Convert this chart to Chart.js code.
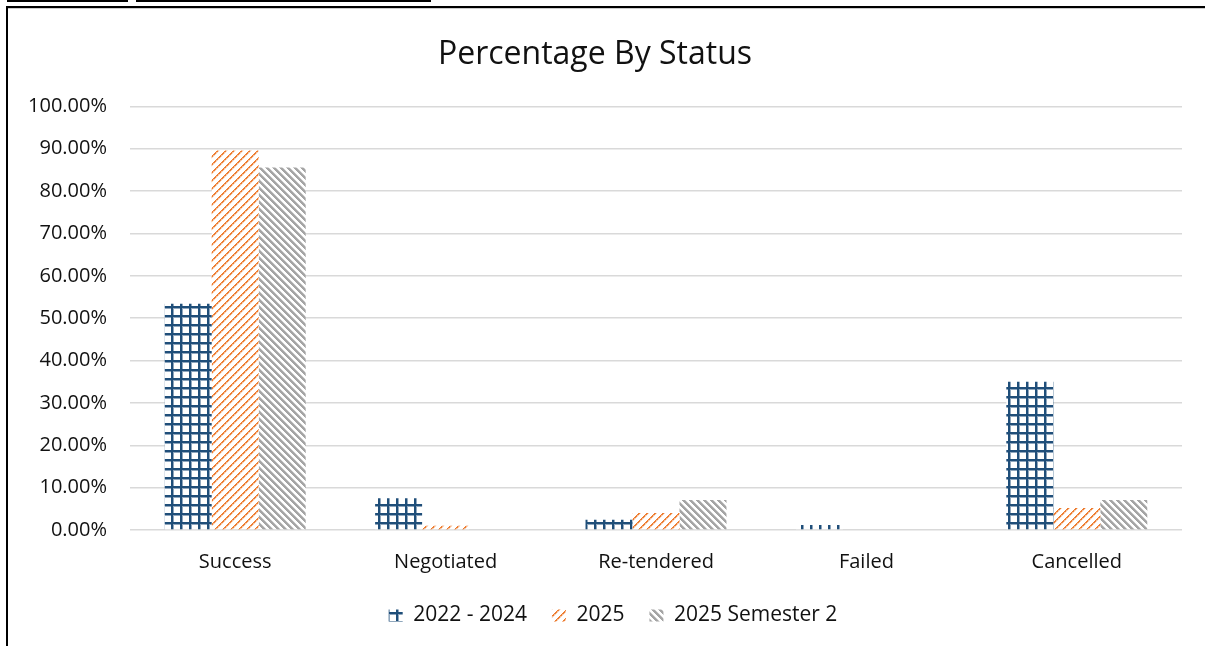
<!DOCTYPE html>
<html>
<head>
<meta charset="utf-8">
<script src="https://cdn.jsdelivr.net/npm/chart.js@4/dist/chart.umd.min.js"></script>
<style>
  html, body { margin: 0; padding: 0; background: #fff; width: 1205px; height: 646px; overflow: hidden; }
  #wrap { position: relative; width: 1205px; height: 646px; }
  .bar { position: absolute; top: 0; height: 2px; background: #000; }
  #frame { position: absolute; left: 6px; top: 6px; right: -10px; bottom: -10px; border-left: 2px solid #000; border-top: 2px solid #000; box-shadow: 0 1px 0 #ccc inset; }
  canvas { position: absolute; left: 0; top: 0; }
</style>
</head>
<body>
<div id="wrap">
  <div class="bar" style="left:7px;width:121px"></div>
  <div class="bar" style="left:136px;width:295px"></div>
  <div id="frame"></div>
  <canvas id="c" width="1205" height="646"></canvas>
</div>
<script>
// ---- data ----
const categories = ["Success", "Negotiated", "Re-tendered", "Failed", "Cancelled"];
const seriesNames = ["2022 - 2024", "2025", "2025 Semester 2"];
const values2022_2024 = [53.4, 7.5, 2.4, 1.2, 35.0];
const values2025 = [89.6, 1.0, 4.0, 0, 5.2];
const values2025S2 = [85.6, 0, 7.1, 0, 7.1];
const yTickMin = 0, yTickMax = 100, yTickStep = 10;
const titleText = "Percentage By Status";

// ---- patterns ----
function tile(size, draw) {
  const cv = document.createElement('canvas');
  cv.width = size; cv.height = size;
  const g = cv.getContext('2d');
  g.fillStyle = '#fff';
  g.fillRect(0, 0, size, size);
  draw(g, size);
  return document.getElementById('c').getContext('2d').createPattern(cv, 'repeat');
}
const gridPattern = tile(9, (g, s) => {
  g.fillStyle = '#8FA6BD';
  g.fillRect(0, 2, s, 1); g.fillRect(2, 0, 1, s);
  g.fillStyle = '#1F4E79';
  g.fillRect(0, 0, s, 2); g.fillRect(0, 0, 2, s);
});
const upDiagPattern = tile(8, (g, s) => {
  for (let i = 0; i < s; i++) {
    const y = s - 1 - i;
    g.fillStyle = '#ED7D31';
    g.fillRect(i, y, 1, 1);
    g.fillStyle = (i % 3 === 1) ? '#F6B488' : '#ED7D31';
    g.fillRect((i + 1) % s, y, 1, 1);
    g.fillStyle = '#FAD9C2';
    g.fillRect((i + 2) % s, y, 1, 1);
  }
});
const downDiagPattern = tile(7, (g, s) => {
  for (let i = 0; i < s; i++) {
    g.fillStyle = '#A5A5A5';
    for (let k = 0; k < 3; k++) g.fillRect((i + k) % s, i, 1, 1);
    g.fillStyle = '#CFCFCF';
    g.fillRect((i + 3) % s, i, 1, 1);
  }
});

const FONT = "'Open Sans', 'Liberation Sans', sans-serif";

// shifts the legend row a little to the right, as in the reference
const legendShift = {
  id: 'legendShift',
  afterUpdate(chart) {
    const lg = chart.legend;
    if (!lg) return;
    lg.left += 18; lg.right += 18;
    lg.adjustHitBoxes();
  }
};

new Chart(document.getElementById('c'), {
  type: 'bar',
  data: {
    labels: categories,
    datasets: [
      { label: seriesNames[0], data: values2022_2024, backgroundColor: gridPattern, borderWidth: 0 },
      { label: seriesNames[1], data: values2025, backgroundColor: upDiagPattern, borderWidth: 0 },
      { label: seriesNames[2], data: values2025S2, backgroundColor: downDiagPattern, borderWidth: 0 }
    ]
  },
  plugins: [legendShift],
  options: {
    responsive: false,
    animation: false,
    devicePixelRatio: 1,
    datasets: { bar: { categoryPercentage: 0.67, barPercentage: 1.0 } },
    layout: { padding: { left: 8, right: 23, top: 0, bottom: 10 } },
    plugins: {
      title: {
        display: true, text: titleText, color: '#111',
        font: { family: FONT, size: 32, weight: 'normal' },
        padding: { top: 36, bottom: 32 }
      },
      legend: {
        position: 'bottom',
        labels: {
          color: '#111', boxWidth: 14, boxHeight: 12, padding: 25,
          font: { family: FONT, size: 21 }
        }
      },
      tooltip: { enabled: false }
    },
    scales: {
      x: {
        afterFit: (s) => { s.height = 50; },
        grid: { display: false },
        border: { display: false },
        ticks: { color: '#111', padding: 12, font: { family: FONT, size: 20 } }
      },
      y: {
        min: yTickMin, max: yTickMax,
        afterFit: (s) => { s.width = 122; },
        grid: { color: '#D9D9D9', lineWidth: 1.5, drawTicks: false },
        border: { display: false },
        ticks: {
          stepSize: yTickStep, color: '#111', padding: 23,
          font: { family: FONT, size: 20 },
          callback: (v) => Number(v).toFixed(2) + '%'
        }
      }
    }
  }
});
</script>
</body>
</html>
